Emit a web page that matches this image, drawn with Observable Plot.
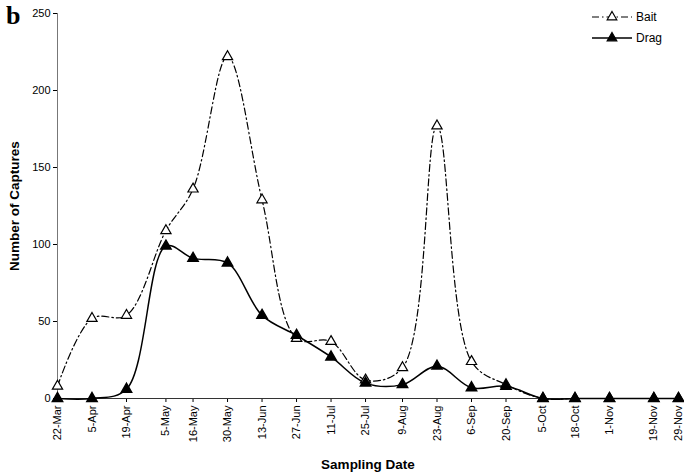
<!DOCTYPE html>
<html>
<head>
<meta charset="utf-8">
<script src="https://cdn.jsdelivr.net/npm/d3@7"></script>
<script src="https://cdn.jsdelivr.net/npm/@observablehq/plot@0.6"></script>
<style>
  body { margin: 0; background: #fff; }
  #wrap { position: relative; width: 684px; height: 473px; font-family: "Liberation Sans", Arial, sans-serif; }
  #tag { position: absolute; left: 6px; top: 1px; font: bold 26px "Liberation Serif", "Times New Roman", serif; }
  #legend { position: absolute; left: 588px; top: 6px; }
</style>
</head>
<body>
<div id="wrap">
  <div id="chart"></div>
  <div id="tag">b</div>
  <svg id="legend" width="90" height="44"></svg>
</div>
<script>
// Sampling dates (one season) and capture counts per method
const dates = ["2003-03-22","2003-04-05","2003-04-19","2003-05-05","2003-05-16","2003-05-30",
  "2003-06-13","2003-06-27","2003-07-11","2003-07-25","2003-08-09","2003-08-23","2003-09-06",
  "2003-09-20","2003-10-05","2003-10-18","2003-11-01","2003-11-19","2003-11-29"];
const bait = [8, 52, 54, 109, 136, 222, 129, 39, 37, 12, 20, 177, 24, 9, 0, 0, 0, 0, 0];
const drag = [0, 0, 6, 99, 91, 88, 54, 41, 27, 10, 9, 21, 7, 8, 0, 0, 0, 0, 0];
const yTicks = [0, 50, 100, 150, 200, 250];

const parse = d3.utcParse("%Y-%m-%d");
const when = dates.map(parse);
const rows = (vals, method) => vals.map((v, i) => ({date: when[i], count: v, method}));
const baitRows = rows(bait, "Bait");
const dragRows = rows(drag, "Drag");

const baitDash = "7,3,1.5,3";
const font = '"Liberation Sans", Arial, sans-serif';

const chart = Plot.plot({
  width: 684,
  height: 473,
  marginLeft: 57,
  marginRight: 6,
  marginTop: 13,
  marginBottom: 75,
  style: {fontFamily: font, fontSize: "11px", color: "#000", background: "#fff"},
  x: {type: "utc", domain: [when[0], when[when.length - 1]]},
  y: {domain: [0, 250]},
  marks: [
    Plot.axisY({ticks: yTicks, tickSize: 4, tickPadding: 3, fontSize: 11,
      label: "Number of Captures", labelAnchor: "center", labelArrow: "none", labelOffset: 48}),
    Plot.axisX({ticks: when, tickFormat: d3.utcFormat("%-d-%b"), tickSize: 4, tickPadding: 3,
      tickRotate: -90, fontSize: 11,
      label: "Sampling Date", labelAnchor: "center", labelArrow: "none", labelOffset: 70}),
    Plot.ruleX([when[0]], {stroke: "#777"}),
    Plot.ruleY([0], {stroke: "#333"}),
    Plot.line(baitRows, {x: "date", y: "count", curve: "catmull-rom", stroke: "#000",
      strokeWidth: 1.2, strokeDasharray: baitDash}),
    Plot.line(dragRows, {x: "date", y: "count", curve: "catmull-rom", stroke: "#000", strokeWidth: 1.5}),
    Plot.dot(baitRows, {x: "date", y: "count", symbol: "triangle", r: 3.8, stroke: "#000",
      fill: "#fff", strokeWidth: 1.2}),
    Plot.dot(dragRows, {x: "date", y: "count", symbol: "triangle", r: 3.8, fill: "#000", stroke: "#000"})
  ]
});
d3.select(chart).selectAll("g[aria-label='y-axis label'] text, g[aria-label='x-axis label'] text")
  .style("font-weight", "bold").style("font-size", "13.5px");
document.getElementById("chart").append(chart);

// Legend: line sample with marker, then the method name
const leg = d3.select("#legend");
const entries = [{name: "Bait", dash: baitDash, fill: "#fff"}, {name: "Drag", dash: null, fill: "#000"}];
entries.forEach((e, i) => {
  const y = 11 + i * 21;
  leg.append("line").attr("x1", 4).attr("x2", 44).attr("y1", y).attr("y2", y)
    .attr("stroke", "#000").attr("stroke-width", e.dash ? 1.2 : 1.5).attr("stroke-dasharray", e.dash);
  leg.append("path").attr("d", d3.symbol(d3.symbolTriangle, 40)()).attr("transform", `translate(24,${y})`)
    .attr("fill", e.fill).attr("stroke", "#000").attr("stroke-width", 1.2);
  leg.append("text").attr("x", 48).attr("y", y + 4).text(e.name)
    .style("font", `12px ${font}`);
});
</script>
</body>
</html>
